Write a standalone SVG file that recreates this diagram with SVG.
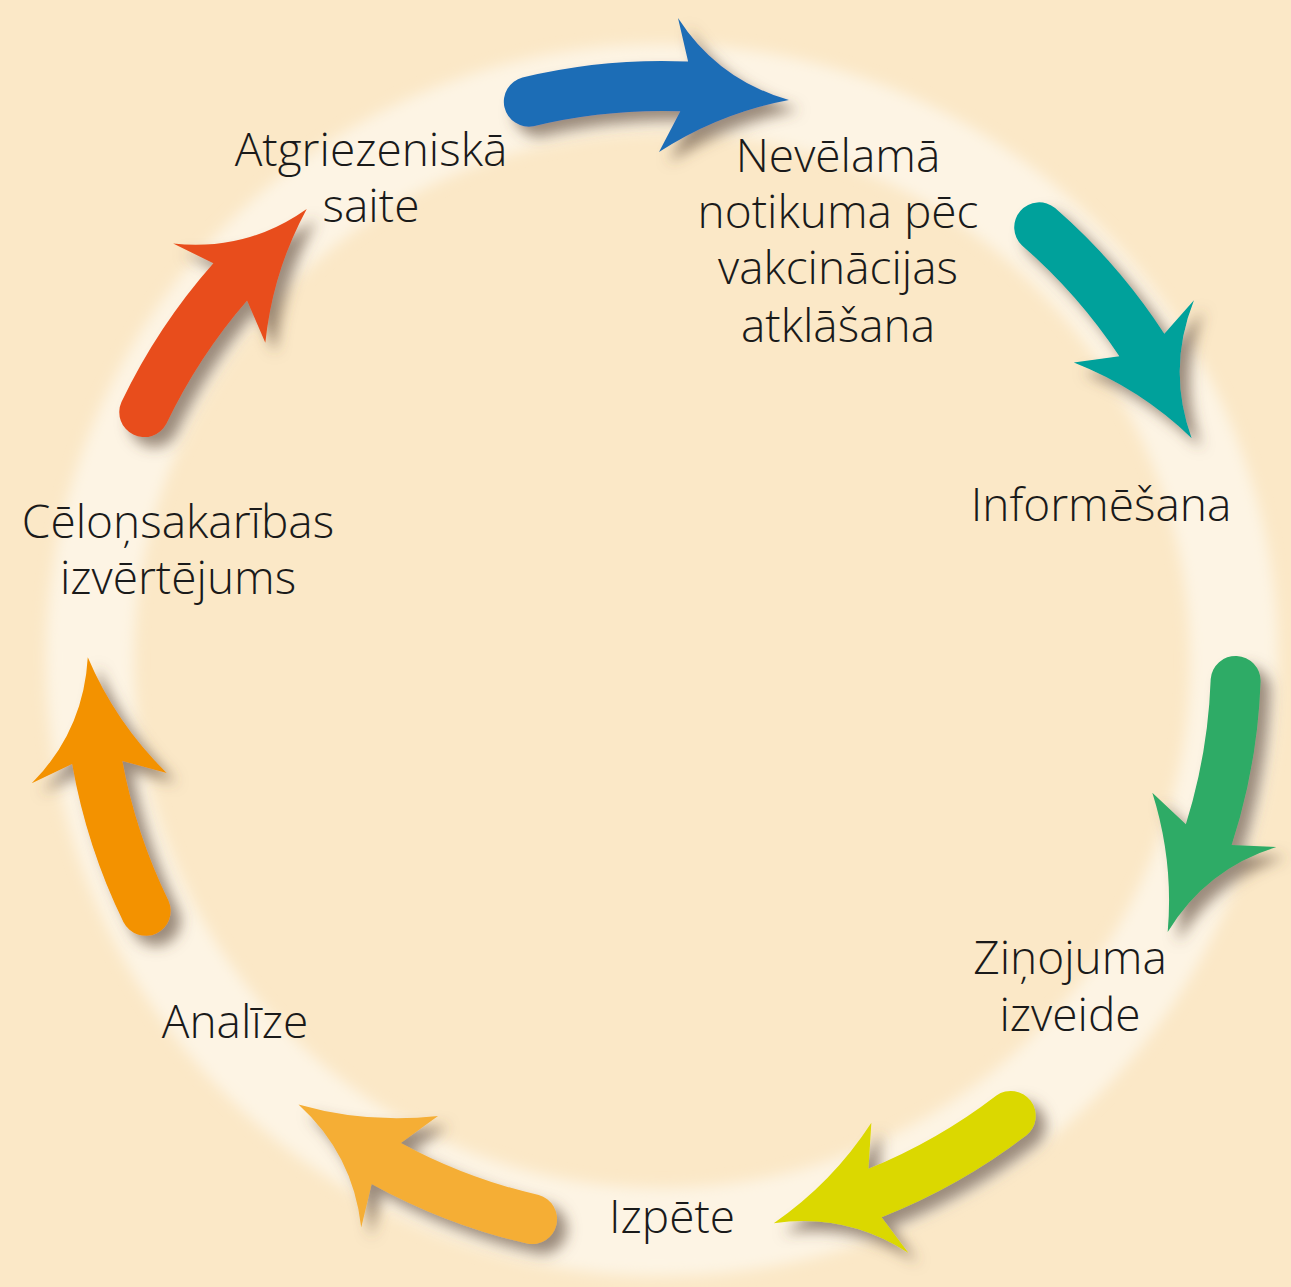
<svg xmlns="http://www.w3.org/2000/svg" width="1291" height="1287" viewBox="0 0 1291 1287">
<style>
.lbl{font-family:"Open Sans","Liberation Sans",sans-serif;font-weight:300;font-size:46px;fill:#1a1a1a;text-anchor:middle}
</style>
<defs>
<filter id="glow" x="-10%" y="-10%" width="120%" height="120%"><feGaussianBlur stdDeviation="7"/></filter>
<filter id="sh" x="-30%" y="-30%" width="160%" height="160%"><feDropShadow dx="10" dy="10" stdDeviation="7" flood-color="#5e4c3a" flood-opacity="0.62"/></filter>
<path id="arr" d="M522.4,77.5 A599,599 0 0 1 688.1,61.6 L678,18 Q718,80 789,100 Q719,113 659,152 L680.3,111.3 A549,549 0 0 0 533.6,126.2 A25,25 0 0 1 522.4,77.5 Z"/>
</defs>
<rect width="1291" height="1287" fill="#fbe8c7"/>
<circle cx="662" cy="660" r="572" fill="none" stroke="#fdf4e4" stroke-width="88" filter="url(#glow)"/>
<g id="connectors">
<g filter="url(#sh)"><use href="#arr" fill="#1f6db6"/></g>
<g filter="url(#sh)"><use href="#arr" fill="#00a19b" transform="rotate(54.5 662 660)"/></g>
<g filter="url(#sh)"><use href="#arr" fill="#2eab66" transform="rotate(105.5 662 660)"/></g>
<g filter="url(#sh)"><use href="#arr" fill="#dbd800" transform="rotate(156 662 660)"/></g>
<g filter="url(#sh)"><use href="#arr" fill="#f5ae36" transform="rotate(206.5 662 660)"/></g>
<g filter="url(#sh)"><use href="#arr" fill="#f39200" transform="rotate(257.5 662 660)"/></g>
<g filter="url(#sh)"><use href="#arr" fill="#e84e1c" transform="rotate(309 662 660)"/></g>
</g>
<g id="n-atgriezeniska"><text class="lbl" x="371" y="166">Atgriezeniskā</text><text class="lbl" x="371" y="222">saite</text></g>
<g id="n-nevelama"><text class="lbl" x="838" y="172">Nevēlamā</text><text class="lbl" x="838" y="228">notikuma pēc</text><text class="lbl" x="838" y="284">vakcinācijas</text><text class="lbl" x="838" y="342">atklāšana</text></g>
<g id="n-informesana"><text class="lbl" x="1101" y="521">Informēšana</text></g>
<g id="n-zinojuma"><text class="lbl" x="1070" y="974">Ziņojuma</text><text class="lbl" x="1070" y="1031">izveide</text></g>
<g id="n-izpete"><text class="lbl" x="672" y="1233">Izpēte</text></g>
<g id="n-analize"><text class="lbl" x="235" y="1038">Analīze</text></g>
<g id="n-celonsakaribas"><text class="lbl" x="178" y="538">Cēloņsakarības</text><text class="lbl" x="178" y="594">izvērtējums</text></g>
</svg>
